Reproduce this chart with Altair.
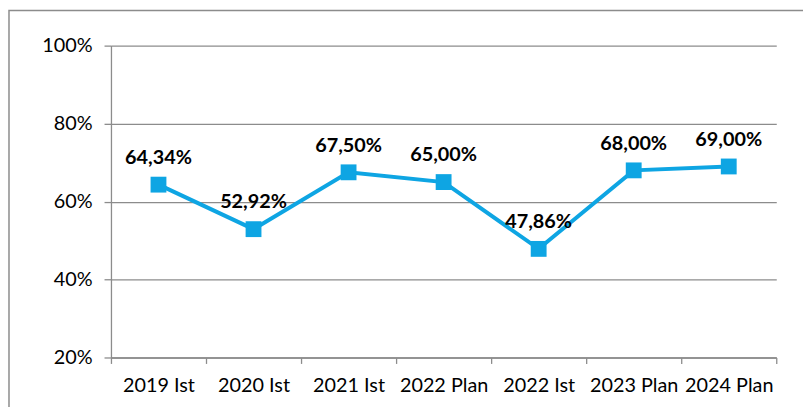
import altair as alt
import pandas as pd

categories = ["2019 Ist", "2020 Ist", "2021 Ist", "2022 Plan", "2022 Ist", "2023 Plan", "2024 Plan"]
values = [64.34, 52.92, 67.50, 65.00, 47.86, 68.00, 69.00]
labels = ["64,34%", "52,92%", "67,50%", "65,00%", "47,86%", "68,00%", "69,00%"]
y_ticks = [20, 40, 60, 80, 100]

df = pd.DataFrame({"cat": categories, "val": values, "lab": labels})

FONT = "Lato"
GRAY = "#8c8c8c"
BLUE = "#0ea5e3"

x_enc = alt.X("cat:N", sort=categories, title=None,
              scale=alt.Scale(paddingInner=0, paddingOuter=0),
              axis=alt.Axis(labelAngle=0, labelFont=FONT, labelFontSize=20, labelColor="#000000",
                            labelPadding=12, domainColor=GRAY, tickColor=GRAY, tickSize=6,
                            tickBand="extent", grid=False))
y_scale = alt.Scale(domain=[20, 100], nice=False, zero=False)

base = alt.Chart(df)

line = base.mark_line(color=BLUE, strokeWidth=4).encode(
    x=x_enc,
    y=alt.Y("val:Q", scale=y_scale, title=None,
            axis=alt.Axis(values=y_ticks, labelExpr="datum.value + '%'", labelFont=FONT,
                          labelFontSize=20, labelColor="#000000", labelPadding=12,
                          domainColor=GRAY, tickColor=GRAY, tickSize=7,
                          gridColor=GRAY, gridWidth=1.3)),
)
pts = base.mark_point(shape="square", filled=True, size=256, color=BLUE, opacity=1).encode(
    x=alt.X("cat:N", sort=categories), y=alt.Y("val:Q", scale=y_scale))
txt = base.mark_text(font=FONT, fontSize=20, fontWeight="bold", color="#000000",
                     baseline="alphabetic", dy=-21).encode(
    x=alt.X("cat:N", sort=categories), y=alt.Y("val:Q", scale=y_scale), text="lab:N")

frame_df = pd.DataFrame({"a": [0]})
frame = alt.Chart(frame_df).mark_rect(fill=None, stroke=GRAY, strokeWidth=1.5).encode(
    x=alt.value(-103), x2=alt.value(700), y=alt.value(-35.5), y2=alt.value(380))

chart = alt.layer(frame, line, pts, txt).properties(
    width=672, height=315,
    padding={"left": 104, "top": 36, "right": 27, "bottom": 48},
    autosize=alt.AutoSizeParams(type="none"),
).configure_view(stroke=None).configure_axis(domainWidth=1.3, tickWidth=1.3)

chart.save("out.html", embed_options={"renderer": "svg", "actions": False})
